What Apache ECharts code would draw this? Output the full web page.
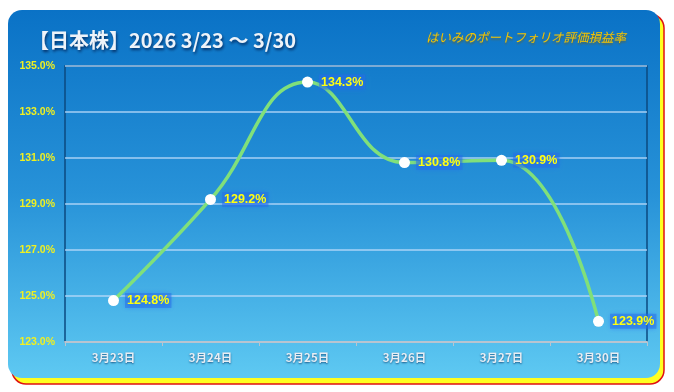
<!DOCTYPE html>
<html><head><meta charset="utf-8">
<script src="https://cdn.jsdelivr.net/npm/echarts@6/dist/echarts.min.js"></script>
<style>html,body{margin:0;padding:0;background:#fff}#c{width:674px;height:392px}</style>
</head><body><div id="c"></div>
<script>
const categories = ['3月23日','3月24日','3月25日','3月26日','3月27日','3月30日'];
const values = [124.8, 129.2, 134.3, 130.8, 130.9, 123.9];
const yTicks = {min: 123, max: 135, interval: 2};
const titleText = '【日本株】2026 3/23 ～ 3/30';
const subtitleText = 'はいみのポートフォリオ評価損益率';

const chart = echarts.init(document.getElementById('c'));
chart.setOption({
  animation: false,
  backgroundColor: '#ffffff',
  graphic: [
    {type:'rect', z:-10, shape:{x:12,y:14,width:652,height:370,r:14}, style:{fill:'#ffff20', stroke:'#e01010', lineWidth:1.5}},
    {type:'rect', z:-9, shape:{x:8,y:10,width:652,height:368,r:14},
      style:{fill:new echarts.graphic.LinearGradient(0,0,0,1,[{offset:0,color:'#0a72c6'},{offset:0.5,color:'#2792d8'},{offset:1,color:'#5ec9f2'}])}},
    {type:'rect', z:-8, shape:{x:65,y:66,width:582,height:276}, style:{fill:'none', stroke:'#0b4a80', lineWidth:1.5}},
    {type:'text', left:29, top:30, style:{text:titleText, fill:'#eef3f9', font:'bold 20px "Noto Sans CJK JP", sans-serif', textShadowColor:'rgba(0,30,80,0.8)', textShadowBlur:3, textShadowOffsetX:1, textShadowOffsetY:2}},
    {type:'text', left:426, top:31, style:{text:subtitleText, fill:'#f5c400', font:'italic 12.5px "Noto Sans CJK JP", sans-serif', textShadowColor:'rgba(120,90,0,0.6)', textShadowBlur:2, textShadowOffsetY:2}}
  ],
  grid: {left:65, right:27, top:66, bottom:50, containLabel:false},
  xAxis: {
    type:'category', data:categories, boundaryGap:true,
    axisLine:{show:true, lineStyle:{color:'#b8c4d0', width:2}},
    axisTick:{show:true, alignWithLabel:false, length:4, lineStyle:{color:'#b8c4d0'}},
    axisLabel:{color:'#e8eef4', fontSize:11.5, fontWeight:'bold', margin:10, fontFamily:'"Noto Sans CJK JP", sans-serif', textShadowColor:'rgba(0,40,90,0.7)', textShadowBlur:2, textShadowOffsetY:1}
  },
  yAxis: {
    type:'value', min:yTicks.min, max:yTicks.max, interval:yTicks.interval,
    axisLine:{show:false}, axisTick:{show:false},
    axisLabel:{color:'#f0f020', fontSize:10.5, fontWeight:'bold', margin:10, fontFamily:'"Liberation Sans", sans-serif', formatter: v => v.toFixed(1)+'%'},
    splitLine:{lineStyle:{color:'rgba(190,220,250,0.85)', width:1.5}}
  },
  series: [{
    type:'line', data:values, smooth:0.45,
    lineStyle:{color:'#80e07a', width:3.5},
    symbol:'circle', symbolSize:11,
    itemStyle:{color:'#ffffff', borderWidth:0},
    label:{show:true, position:'right', distance:6, color:'#ffff10', fontSize:12.5, fontWeight:'bold', fontFamily:'"Liberation Sans", sans-serif',
      formatter: p => p.value.toFixed(1)+'%',
      backgroundColor:'rgba(40,110,230,0.5)', padding:[1,2], shadowColor:'rgba(30,100,240,0.9)', shadowBlur:5}
  }]
});
</script></body></html>
